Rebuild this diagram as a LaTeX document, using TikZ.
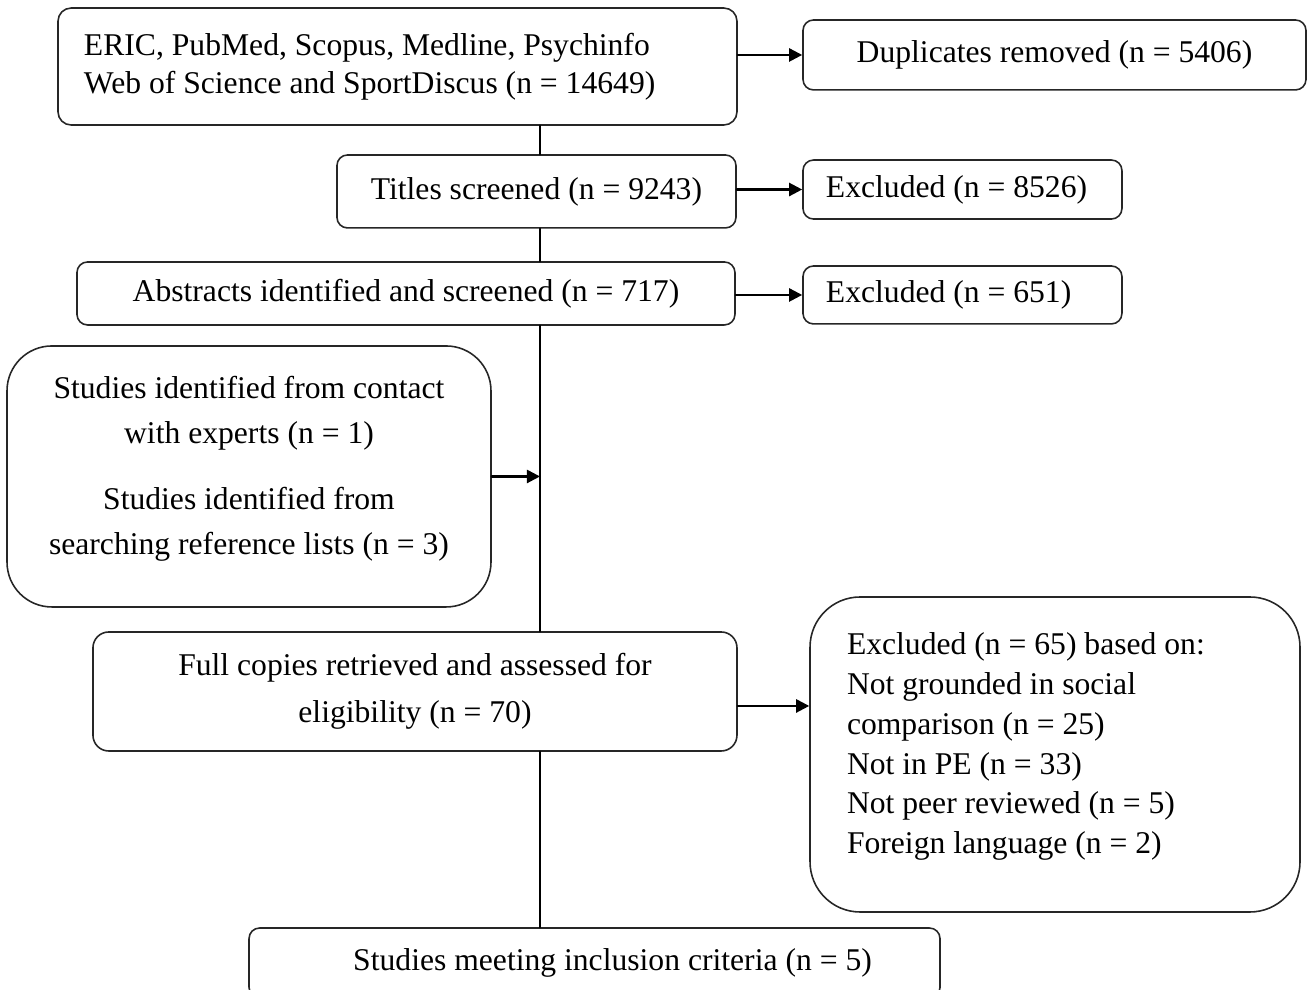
\documentclass[tikz,border=0pt]{standalone}
\usepackage{fontspec}
\setmainfont{Liberation Serif}
\usetikzlibrary{arrows.meta}
\tikzset{
  every picture/.style={line join=round, line cap=round},
  box/.style={draw=black!85, line width=0.6pt, rounded corners=4pt, inner xsep=0pt, inner ysep=0pt, align=center, font=\fontsize{12}{14.4}\selectfont},
  flow/.style={line width=0.9pt},
  arr/.style={flow, -{Triangle[length=5pt,width=5pt]}},
}

\begin{document}
\begin{tikzpicture}
\useasboundingbox (0,0) rectangle (17.427,-13.187);
\node[box, rounded corners=5pt, minimum width=9.053cm, minimum height=1.560cm, text width=8.360cm, align=flush left] (db) at (5.300,-0.887) {ERIC, PubMed, Scopus, Medline, Psychinfo\\Web of Science and SportDiscus (n = 14649)};
\node[box, minimum width=6.707cm, minimum height=0.933cm] (dup) at (14.060,-0.733) {Duplicates removed (n = 5406)};
\node[box, minimum width=5.320cm, minimum height=0.973cm] (tit) at (7.153,-2.553) {Titles screened (n = 9243)};
\node[box, minimum width=4.253cm, minimum height=0.787cm, text width=3.640cm, align=flush left] (ex1) at (12.833,-2.527) {Excluded (n = 8526)};
\node[box, minimum width=8.773cm, minimum height=0.840cm] (abs) at (5.413,-3.913) {Abstracts identified and screened (n = 717)};
\node[box, minimum width=4.253cm, minimum height=0.773cm, text width=3.640cm, align=flush left] (ex2) at (12.833,-3.933) {Excluded (n = 651)};
\node[box, rounded corners=17pt, minimum width=6.453cm, minimum height=3.480cm, text depth=8.6pt, font=\fontsize{12}{17}\selectfont] (oth) at (3.320,-6.353) {Studies identified from contact\\with experts (n = 1)\\[8pt]Studies identified from\\searching reference lists (n = 3)};
\node[box, rounded corners=6pt, minimum width=8.587cm, minimum height=1.587cm, font=\fontsize{12}{18}\selectfont] (full) at (5.533,-9.220) {Full copies retrieved and assessed for\\eligibility (n = 70)};
\node[box, rounded corners=19pt, minimum width=6.533cm, minimum height=4.200cm, text width=5.547cm, align=flush left, text depth=84pt, font=\fontsize{12}{15.1}\selectfont] (ex3) at (14.067,-10.060) {Excluded (n = 65) based on:\\Not grounded in social\\comparison (n = 25)\\Not in PE (n = 33)\\Not peer reviewed (n = 5)\\Foreign language (n = 2)};
\node[box, minimum width=9.213cm, minimum height=0.933cm] (fin) at (7.927,-12.840) {\hspace*{0.48cm}Studies meeting inclusion criteria (n = 5)};
\coordinate (spine) at (7.200,0);
\coordinate (fx) at ([yshift=-0.193cm]full.east);
\draw[flow] (spine |- db.south) -- (spine |- tit.north);
\draw[flow] (spine |- tit.south) -- (spine |- abs.north);
\draw[flow] (spine |- abs.south) -- (spine |- full.north);
\draw[flow] (spine |- full.south) -- (spine |- fin.north);
\draw[arr] (db.east |- dup.west) -- (dup.west);
\draw[arr] (tit.east |- ex1.west) -- (ex1.west);
\draw[arr] (abs.east |- ex2.west) -- (ex2.west);
\draw[arr] (oth.east) -- (oth.east -| spine);
\draw[arr] (fx) -- (fx -| ex3.west);
\end{tikzpicture}
\end{document}
